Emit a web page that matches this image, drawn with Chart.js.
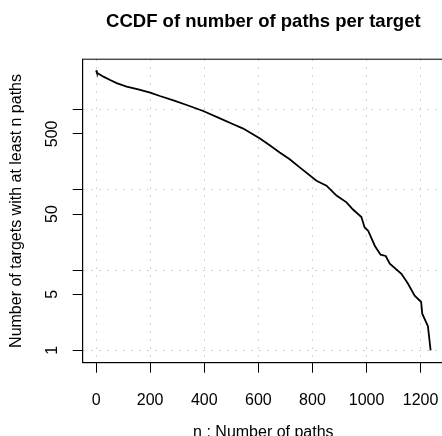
<!DOCTYPE html>
<html>
<head>
<meta charset="utf-8">
<title>CCDF of number of paths per target</title>
<script src="https://cdn.jsdelivr.net/npm/chart.js@4.4.1/dist/chart.umd.min.js"></script>
<style>
  html, body { margin: 0; padding: 0; background: #fff; overflow: hidden; }
  canvas { display: block; }
</style>
</head>
<body>
<!-- a bit larger than the window: the plot box runs past the right/bottom edge like the cropped original -->
<canvas id="ccdfChart" width="446" height="442"></canvas>
<script>
// n : number of paths
const pathCounts = [0, 3, 27, 52, 76, 113, 156, 200, 236, 286, 335, 396, 458, 507, 544, 606, 642, 679, 716, 753, 815, 852, 889, 926, 950, 981, 993, 1006, 1031, 1052, 1071, 1086, 1129, 1153, 1178, 1202, 1206, 1227, 1237];
// number of targets with at least n paths
const targetCounts = [3100, 2900, 2590, 2350, 2155, 1945, 1800, 1638, 1485, 1313, 1148, 966, 783, 660, 583, 438, 362, 294, 242, 191, 130, 113, 85, 70, 57, 46, 34, 31, 20, 15.6, 15, 12, 9, 6.8, 4.8, 4, 2.86, 2, 1];

const xTicks = [0, 200, 400, 600, 800, 1000, 1200];
const yTicks = [1, 5, 10, 50, 100, 500, 1000];
const yLabels = [1, 5, 50, 500];
const yGrid = [1, 10, 100, 1000];

const FONT = "'Liberation Sans', Arial, Helvetica, sans-serif";

// R style axis range: data range + 4% each side
const xLo = Math.min(...pathCounts), xHi = Math.max(...pathCounts);
const xPad = (xHi - xLo) * 0.04;
const lLo = Math.log10(Math.min(...targetCounts)), lHi = Math.log10(Math.max(...targetCounts));
const lPad = (lHi - lLo) * 0.04;

const points = pathCounts.map((n, i) => ({ x: n, y: targetCounts[i] }));

// box around the plot region
const boxPlugin = {
    id: 'box',
    afterDraw(chart) {
        const a = chart.chartArea;
        const ctx = chart.ctx;
        ctx.save();
        ctx.strokeStyle = '#000';
        ctx.lineWidth = 1;
        ctx.strokeRect(a.left, a.top, a.right - a.left, a.bottom - a.top);
        ctx.restore();
    }
};

const ctx = document.getElementById('ccdfChart').getContext('2d');
const ccdfChart = new Chart(ctx, {
    type: 'line',
    data: {
        datasets: [{
            data: points,
            borderColor: '#000',
            borderWidth: 1.8,
            pointRadius: 0,
            tension: 0,
            fill: false
        }]
    },
    options: {
        responsive: false,
        animation: false,
        layout: { padding: { left: 0, right: 2, top: 0, bottom: 0 } },
        plugins: {
            legend: { display: false },
            tooltip: { enabled: false },
            title: {
                display: true,
                text: 'CCDF of number of paths per target',
                fullSize: false,   // centred over the plot box
                color: '#000',
                font: { family: FONT, size: 18.5, weight: 'bold' },
                padding: { top: 11, bottom: 26 }
            }
        },
        scales: {
            x: {
                type: 'linear',
                min: xLo - xPad,
                max: xHi + xPad,
                afterBuildTicks: s => { s.ticks = xTicks.map(v => ({ value: v })); },
                ticks: {
                    color: '#000',
                    // tall line box pushes the labels down without widening the side padding
                    font: { family: FONT, size: 16, lineHeight: 2.8 },
                    padding: 5,
                    maxRotation: 0,
                    autoSkip: false,
                    callback: v => String(v)
                },
                grid: {
                    color: '#d3d3d3',
                    tickColor: '#000',
                    tickLength: 10,
                    lineWidth: 1
                },
                border: { color: '#000', width: 1, dash: [2, 6] },
                title: {
                    display: true,
                    text: 'n : Number of paths',
                    color: '#000',
                    font: { family: FONT, size: 16 },
                    padding: { top: -5, bottom: 0.3 }
                }
            },
            y: {
                type: 'logarithmic',
                min: Math.pow(10, lLo - lPad),
                max: Math.pow(10, lHi + lPad),
                afterBuildTicks: s => { s.ticks = yTicks.map(v => ({ value: v })); },
                ticks: {
                    color: '#000',
                    font: { family: FONT, size: 16 },
                    padding: 6.4,
                    minRotation: 90,
                    maxRotation: 90,
                    crossAlign: 'center',
                    autoSkip: false,
                    callback: v => yLabels.includes(v) ? String(v) : ''
                },
                grid: {
                    // dotted grid only on the decades, tick marks on all
                    color: c => (c.tick && yGrid.includes(c.tick.value)) ? '#d3d3d3' : 'rgba(0,0,0,0)',
                    tickColor: '#000',
                    tickLength: 10,
                    lineWidth: 1
                },
                border: { color: '#000', width: 1, dash: [2, 6] },
                title: {
                    display: true,
                    text: 'Number of targets with at least n paths',
                    color: '#000',
                    font: { family: FONT, size: 16 },
                    padding: { top: 7.4, bottom: 14.1 }
                }
            }
        }
    },
    plugins: [boxPlugin]
});
</script>
</body>
</html>
